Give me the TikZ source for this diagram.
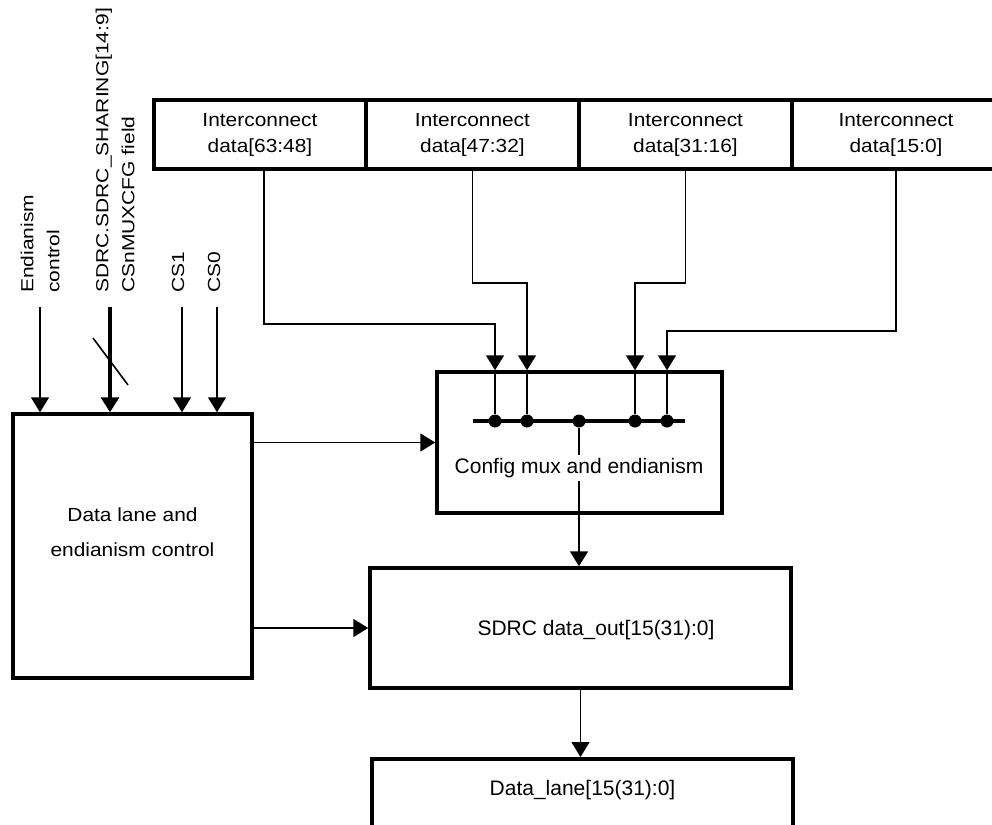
\documentclass[tikz,border=0pt]{standalone}
\usepackage{fontspec}
\setmainfont{Liberation Sans}
\newfontfamily\widesans[FakeStretch=1.1]{Liberation Sans}
\newfontfamily\tallsans[FakeStretch=1.2]{Liberation Sans}
\usetikzlibrary{positioning,arrows.meta,calc}
\begin{document}
\begin{tikzpicture}[
    x=1pt, y=-1pt,
    box/.style={draw, line width=3.5pt, inner sep=0pt},
    seg/.style={box, minimum height=69pt, align=center, font=\widesans\fontsize{19}{26}\selectfont},
    txt/.style={font=\fontsize{21}{25}\selectfont, inner sep=3pt},
    vtxt/.style={rotate=90, anchor=west, align=left, inner sep=0pt, font=\tallsans\fontsize{17.5}{26}\selectfont},
    wire/.style={line width=1.6pt},
    arr/.style={wire, -{Triangle[length=15pt,width=18pt]}},
    dot/.style={circle, fill, inner sep=0pt, minimum size=13pt}
]
\useasboundingbox (0,0) rectangle (992,824);
\node[seg, minimum width=212pt] (seg3) at (260,134.5) {Interconnect\\data[63:48]};
\node[seg, minimum width=213pt] (seg2) at (472.5,134.5) {Interconnect\\data[47:32]};
\node[seg, minimum width=213pt] (seg1) at (685.5,134.5) {Interconnect\\data[31:16]};
\node[seg, minimum width=208pt] (seg0) at (896,134.5) {Interconnect\\data[15:0]};
\node[box, minimum width=239pt, minimum height=264pt] (ctrl) at (132.5,546) {};
\node[align=center, font=\widesans\fontsize{19}{35}\selectfont] (ctrltxt) at (132.5,532) {Data lane and\\endianism control};
\node[box, minimum width=285pt, minimum height=141pt] (mux) at (579.5,442.5) {};
\node[txt] (muxtxt) at (579,468) {Config mux and endianism};
\node[box, minimum width=421pt, minimum height=120pt] (sdrc) at (580.5,628) {};
\node[txt] (sdrctxt) at (596,630) {SDRC data\_out[15(31):0]};
\node[box, minimum width=421pt, minimum height=100pt, anchor=north] (lane) at (582.5,757) {};
\node[txt] (lanetxt) at (582.5,790) {Data\_lane[15(31):0]};
\coordinate (busL) at (473,421);
\coordinate (busR) at (685,421);
\draw[line width=3.5pt] (busL) -- (busR);
\foreach \n/\x in {A/495,B/527,C/579,D/635,E/667}
    \node[dot] (dot\n) at (\x,421) {};
\draw[arr] ([xshift=4pt]seg3.south) -- ++(0,153) -| (dotA |- mux.north);
\draw[arr] (seg2.south) -- ++(0,112) -| (dotB |- mux.north);
\draw[arr] (seg1.south) -- ++(0,112) -| (dotD |- mux.north);
\draw[arr] (seg0.south) -- ++(0,160) -| (dotE |- mux.north);
\foreach \n in {A,B,D,E}
    \draw[wire] (dot\n |- mux.north) -- (dot\n);
\draw[wire] (dotC) -- (dotC |- muxtxt.north);
\draw[arr] (dotC |- muxtxt.south) -- (dotC |- sdrc.north);
\draw[arr] (sdrc.south) -- (sdrc.south |- lane.north);
\draw[arr] (ctrl.east |- mux.west) -- (mux.west);
\draw[arr] (ctrl.east |- sdrc.west) -- (sdrc.west);
\coordinate (inE) at (40,307);
\coordinate (inS) at (110,307);
\coordinate (in1) at (182,307);
\coordinate (in0) at (217,307);
\draw[arr] (inE) -- (inE |- ctrl.north);
\draw[arr, line width=3.5pt] (inS) -- (inS |- ctrl.north);
\draw[arr] (in1) -- (in1 |- ctrl.north);
\draw[arr] (in0) -- (in0 |- ctrl.north);
\draw[wire] ($(inS)+(-17,31)$) -- ++(35,47);
\node[vtxt] (lblE) at (40,293) {Endianism\\control};
\node[vtxt] (lblS) at (115,293) {SDRC.SDRC\_SHARING[14:9]\\CSnMUXCFG field};
\node[vtxt] (lbl1) at (178,293) {CS1};
\node[vtxt] (lbl0) at (214,293) {CS0};
\end{tikzpicture}
\end{document}
